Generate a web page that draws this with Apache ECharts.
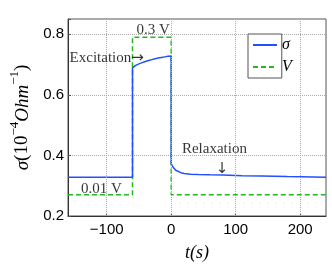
<!DOCTYPE html>
<html><head><meta charset="utf-8">
<script src="https://cdn.jsdelivr.net/npm/echarts@6/dist/echarts.min.js"></script>
<style>html,body{margin:0;padding:0;background:#fff}#c{width:332px;height:267px}</style>
</head><body><div id="c"></div>
<script>
// sigma trace (time in s, conductance in 1e-4 Ohm^-1)
const sigmaT = [-160, -60, -60, -58, -55, -50, -45, -40, -35, -30, -25, -20, -15, -10, -5, 0, 0, 1.5, 4, 7, 10, 15, 20, 30, 42, 60, 80, 110, 140, 180, 240];
const sigmaV = [0.328, 0.328, 0.689, 0.693, 0.697, 0.702, 0.706, 0.710, 0.713, 0.716, 0.719, 0.721, 0.723, 0.725, 0.727, 0.728, 0.372, 0.366, 0.358, 0.351, 0.347, 0.343, 0.340, 0.338, 0.337, 0.336, 0.335, 0.333, 0.332, 0.330, 0.328];
// applied voltage (shown on same scale)
const voltT = [-160, -60, -60, 0, 0, 240];
const voltV = [0.27, 0.27, 0.79, 0.79, 0.27, 0.27];
// axis ticks
const xTicks = [-100, 0, 100, 200];
const yTicks = [0.2, 0.4, 0.6, 0.8];
// annotations
const noteText = ['0.3 V', 'Excitation{a|\u2192}', '0.01 V', 'Relaxation', '{a|\u2193}'];
const noteX = [-28, -100, -108, 67, 79];
const noteY = [0.815, 0.722, 0.29, 0.42, 0.355];

const serif = '"Liberation Serif", "DejaVu Serif", serif';
const sans = '"Liberation Sans", Arial, sans-serif';
const fmtNum = v => String(v).replace('-', '\u2212');
const gridLine = { color: '#aaa', type: 'dotted', width: 1 };

const chart = echarts.init(document.getElementById('c'));
chart.setOption({
  animation: false,
  backgroundColor: '#fff',
  grid: { left: 58, top: 19, right: 6, bottom: 43, show: true, borderColor: '#555', borderWidth: 1, backgroundColor: 'transparent' },
  legend: {
    left: 248, top: 34, orient: 'vertical',
    data: ['σ', 'V'],
    itemWidth: 24, itemHeight: 14, itemGap: 6,
    padding: [3, -10, 3, 4],
    borderColor: '#555', borderWidth: 1, backgroundColor: '#fff',
    itemStyle: { opacity: 0 },
    textStyle: { fontFamily: serif, fontStyle: 'italic', fontSize: 16, color: '#000', width: 12, overflow: 'truncate', ellipsis: '' }
  },
  xAxis: {
    type: 'value', min: -160, max: 240,
    axisLine: { show: true, onZero: false, lineStyle: { color: '#333', width: 1 } },
    axisTick: { show: true, inside: true, length: 3, customValues: xTicks, lineStyle: { color: '#555' } },
    axisLabel: { customValues: xTicks, formatter: fmtNum, fontFamily: sans, fontSize: 15, color: '#000', margin: 6 },
    splitLine: { show: false },
    name: 't(s)', nameLocation: 'middle', nameGap: 28,
    nameTextStyle: { fontFamily: serif, fontStyle: 'italic', fontSize: 18, color: '#000' }
  },
  yAxis: {
    type: 'value', min: 0.2, max: 0.85, interval: 0.2,
    axisLine: { show: true, onZero: false, lineStyle: { color: '#333', width: 1 } },
    axisTick: { show: true, inside: true, length: 3, lineStyle: { color: '#555' } },
    axisLabel: { formatter: v => (v > 0.81 ? '' : v.toFixed(1)), fontFamily: sans, fontSize: 15, color: '#000', margin: 4 },
    splitLine: { show: true, lineStyle: gridLine },
    name: '{i|σ}{n|(10}{s|−4}{i|Ohm}{s|−1}{n|)}', nameLocation: 'middle', nameGap: 36,
    nameTextStyle: {
      color: '#000',
      rich: {
        i: { fontFamily: serif, fontStyle: 'italic', fontSize: 19, color: '#000', verticalAlign: 'bottom', lineHeight: 24 },
        n: { fontFamily: serif, fontSize: 19, color: '#000', verticalAlign: 'bottom', lineHeight: 24 },
        s: { fontFamily: serif, fontSize: 13, color: '#000', verticalAlign: 'top', lineHeight: 24 }
      }
    }
  },
  series: [
    {
      name: 'σ', type: 'line', symbol: 'none', z: 3,
      data: sigmaT.map((t, i) => [t, sigmaV[i]]),
      lineStyle: { color: '#2050ff', width: 1.5 }, itemStyle: { color: '#2050ff' }
    },
    {
      name: 'V', type: 'line', symbol: 'none', z: 2,
      data: voltT.map((t, i) => [t, voltV[i]]),
      lineStyle: { color: '#22b822', width: 1.5, type: [5, 3] }, itemStyle: { color: '#22b822' },
      markLine: {
        silent: true, symbol: ['none', 'none'], label: { show: false }, animation: false,
        lineStyle: gridLine,
        data: xTicks.map(v => ({ xAxis: v }))
      }
    },
    {
      name: 'notes', type: 'scatter', symbolSize: 0, silent: true, z: 5,
      data: noteText.map((s, i) => ({ value: [noteX[i], noteY[i]], label: { formatter: s } })),
      label: {
        show: true, position: 'inside', fontFamily: serif, fontSize: 15, color: '#000',
        rich: { a: { fontFamily: '"DejaVu Sans", sans-serif', fontSize: 15, color: '#000' } }
      }
    }
  ]
});
</script></body></html>
